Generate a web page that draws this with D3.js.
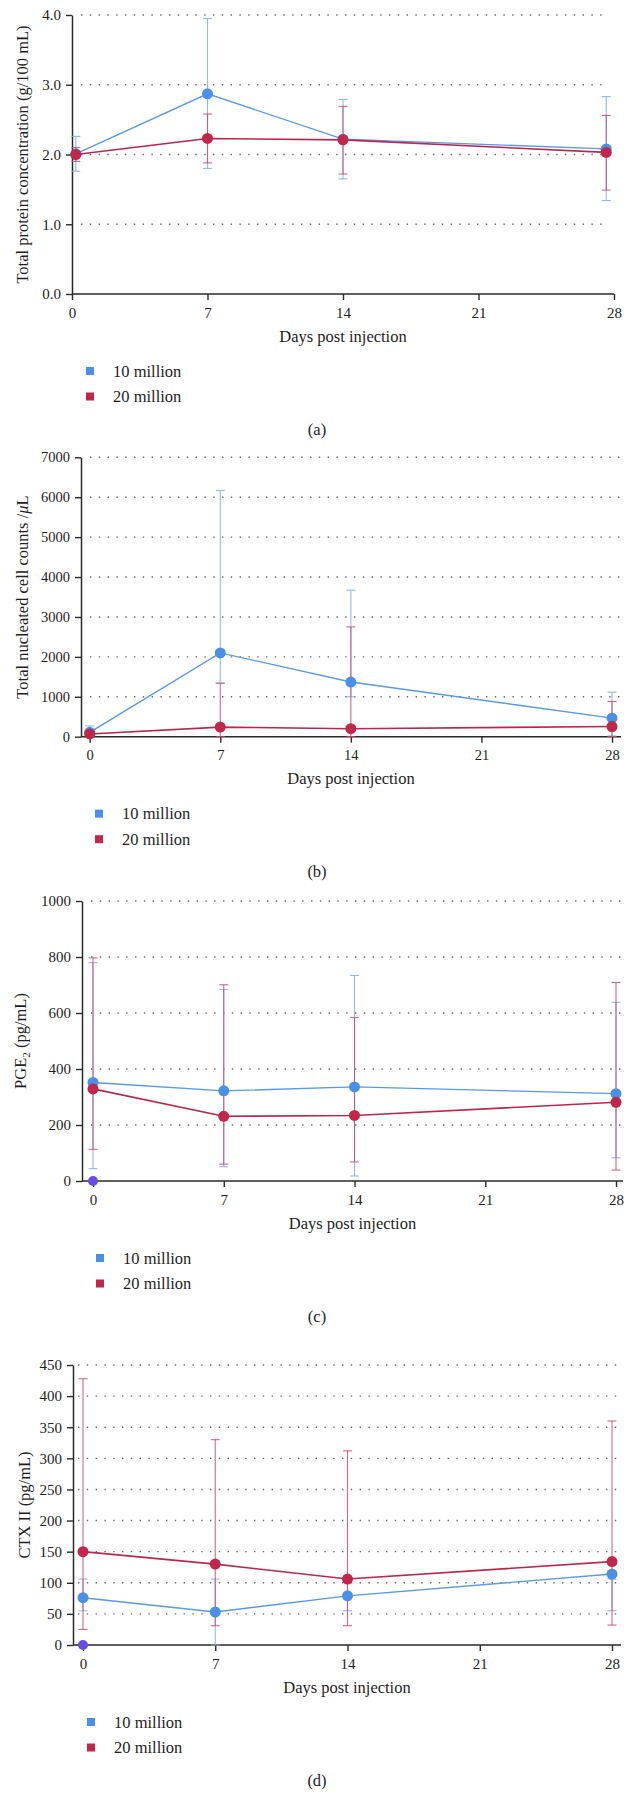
<!DOCTYPE html>
<html><head><meta charset="utf-8">
<script src="https://cdn.jsdelivr.net/npm/d3@7"></script>
<style>
body{margin:0;background:#fff}
svg{display:block}
text{font-family:"Liberation Serif","DejaVu Serif",serif;fill:#1e1e1e}
</style>
</head><body>
<svg id="chart" width="634" height="1814"></svg>
<script>
// ---------- data ----------
const tickDays = [0, 7, 14, 21, 28];
const daysA = [0.2, 7, 14, 27.6];
const days = [0, 7, 14, 28];
const seriesNames = ["10 million", "20 million"];

// (a) total protein (g/100 mL)
const aBlue = [2.01, 2.87, 2.22, 2.08];
const aBlueLo = [1.76, 1.80, 1.65, 1.34];
const aBlueHi = [2.26, 3.95, 2.79, 2.83];
const aRed = [2.00, 2.23, 2.21, 2.03];
const aRedLo = [1.90, 1.88, 1.72, 1.49];
const aRedHi = [2.10, 2.58, 2.69, 2.56];
const aTicks = [0, 1, 2, 3, 4];

// (b) total nucleated cell counts /uL
const bBlue = [110, 2100, 1370, 465];
const bBlueLo = [0, 1340, 1000, 20];
const bBlueHi = [270, 6170, 3670, 1115];
const bRed = [68, 240, 200, 255];
const bRedLo = [0, 0, 0, 0];
const bRedHi = [150, 1340, 2750, 880];
const bTicks = [0, 1000, 2000, 3000, 4000, 5000, 6000, 7000];

// (c) PGE2 (pg/mL)
const cBlue = [352, 322, 336, 312];
const cBlueLo = [44, 51, 18, 83];
const cBlueHi = [780, 684, 734, 638];
const cRed = [329, 231, 234, 281];
const cRedLo = [113, 60, 68, 39];
const cRedHi = [797, 701, 584, 709];
const cTicks = [0, 200, 400, 600, 800, 1000];
const cExtraDay = [0];
const cExtraVal = [0];

// (d) CTX II (pg/mL)
const dBlue = [76, 53, 79, 114];
const dBlueLo = [55, 0, 55, 55];
const dBlueHi = [106, 106, 103, 106];
const dRed = [150, 130, 106, 134];
const dRedLo = [25, 31, 31, 32];
const dRedHi = [428, 330, 312, 360];
const dTicks = [0, 50, 100, 150, 200, 250, 300, 350, 400, 450];
const dExtraDay = [0];
const dExtraVal = [0];

// ---------- styling ----------
const COL = {
  blue: "#4a8fe8", red: "#c2264a",
  blueLine: "#5a98e6", redLine: "#b8284c",
  blueErr: "#7aaeea", redErr: "#c9506f",
  purple: "#6a4ae8", axis: "#2a2a2a", grid: "#6a6a6a"
};

function mk(xs, v, lo, hi) { return xs.map((d, i) => ({day: d, v: v[i], lo: lo[i], hi: hi[i]})); }

const panels = [
  {cap: "(a)", blue: mk(daysA, aBlue, aBlueLo, aBlueHi), red: mk(daysA, aRed, aRedLo, aRedHi),
   ticks: aTicks, fmt: d3.format(".1f"), title: ["Total protein concentration (g/100 mL)"],
   L: {axisX: 72, x0: 72, x28: 614, xEnd: 614, yTop: 15, yBot: 294, gx0: 81, gx1: 607, titleX: 22, fs: 15}},
  {cap: "(b)", blue: mk(days, bBlue, bBlueLo, bBlueHi), red: mk(days, bRed, bRedLo, bRedHi),
   ticks: bTicks, fmt: d3.format("d"), title: ["Total nucleated cell counts /", "μ", "L"],
   L: {axisX: 81, x0: 89.7, x28: 612, xEnd: 621, yTop: 457.3, yBot: 736.7, gx0: 90, gx1: 620, titleX: 22, fs: 14.5}},
  {cap: "(c)", blue: mk(days, cBlue, cBlueLo, cBlueHi), red: mk(days, cRed, cRedLo, cRedHi),
   extra: cExtraDay.map((d, i) => ({day: d, v: cExtraVal[i]})),
   ticks: cTicks, fmt: d3.format("d"), title: "PGE",
   L: {axisX: 82, x0: 93, x28: 616, xEnd: 623, yTop: 901, yBot: 1181, gx0: 91, gx1: 621, titleX: 20, fs: 15}},
  {cap: "(d)", blue: mk(days, dBlue, dBlueLo, dBlueHi), red: mk(days, dRed, dRedLo, dRedHi),
   extra: dExtraDay.map((d, i) => ({day: d, v: dExtraVal[i]})),
   ticks: dTicks, fmt: d3.format("d"), title: ["CTX II (pg/mL)"],
   L: {axisX: 73, x0: 83, x28: 612, xEnd: 621, yTop: 1365, yBot: 1645, gx0: 78, gx1: 621, titleX: 24, fs: 15}}
];

const svg = d3.select("#chart");
const FS = 16.5;

panels.forEach(p => {
  const L = p.L;
  const g = svg.append("g");
  const x = d3.scaleLinear().domain([0, 28]).range([L.x0, L.x28]);
  const yMax = p.ticks[p.ticks.length - 1];
  const y = d3.scaleLinear().domain([0, yMax]).range([L.yBot, L.yTop]);

  // grid
  g.append("g").selectAll("line").data(p.ticks.filter(t => t > 0)).join("line")
    .attr("x1", L.gx0).attr("x2", L.gx1)
    .attr("y1", d => y(d)).attr("y2", d => y(d))
    .attr("stroke", COL.grid).attr("stroke-width", 1.4)
    .attr("stroke-dasharray", "1.4,7.4");

  // y axis
  const ya = g.append("g").attr("transform", `translate(${L.axisX},0)`)
    .call(d3.axisLeft(y).tickValues(p.ticks).tickFormat(p.fmt).tickSize(6).tickPadding(5).tickSizeOuter(0));
  // x axis
  const xa = g.append("g").attr("transform", `translate(0,${L.yBot})`)
    .call(d3.axisBottom(x).tickValues(tickDays).tickFormat(d3.format("d")).tickSize(6).tickPadding(7).tickSizeOuter(0));
  xa.select(".domain").remove();
  g.append("line").attr("x1", L.axisX).attr("x2", L.xEnd).attr("y1", L.yBot).attr("y2", L.yBot)
    .attr("stroke", COL.axis).attr("stroke-width", 1.5);
  [ya, xa].forEach(a => {
    a.selectAll(".domain").attr("stroke", COL.axis).attr("stroke-width", 1.5);
    a.selectAll(".tick line").attr("stroke", COL.axis).attr("stroke-width", 1.4);
    a.selectAll(".tick text").attr("font-family", '"Liberation Serif","DejaVu Serif",serif')
      .attr("font-size", L.fs).attr("fill", "#1e1e1e");
  });

  // axis titles
  g.append("text").attr("x", (L.axisX + L.xEnd) / 2).attr("y", L.yBot + 42).attr("dy", "0.35em")
    .attr("text-anchor", "middle").attr("font-size", FS).text("Days post injection");
  const yt = g.append("text")
    .attr("transform", `translate(${L.titleX},${(L.yTop + L.yBot) / 2}) rotate(-90)`)
    .attr("text-anchor", "middle").attr("dy", "0.35em").attr("font-size", FS);
  if (p.title === "PGE") {
    yt.append("tspan").text("PGE");
    yt.append("tspan").attr("font-size", 11).attr("dy", 4).text("2");
    yt.append("tspan").attr("dy", -4).text(" (pg/mL)");
  } else if (p.title.length === 3) {
    yt.append("tspan").text(p.title[0]);
    yt.append("tspan").attr("font-style", "italic").text(p.title[1]);
    yt.append("tspan").text(p.title[2]);
  } else {
    yt.text(p.title[0]);
  }

  // error bars
  const drawErr = (data, col) => {
    const eg = g.append("g").attr("stroke", col).attr("stroke-width", 1.1).attr("stroke-opacity", 0.85);
    data.forEach(d => {
      const cx = x(d.day);
      eg.append("line").attr("x1", cx).attr("x2", cx).attr("y1", y(d.lo)).attr("y2", y(d.hi));
      [d.lo, d.hi].forEach(v => eg.append("line").attr("x1", cx - 4.5).attr("x2", cx + 4.5)
        .attr("y1", y(v)).attr("y2", y(v)));
    });
  };
  drawErr(p.blue, COL.blueErr);
  drawErr(p.red, COL.redErr);

  // lines
  const line = d3.line().x(d => x(d.day)).y(d => y(d.v));
  g.append("path").datum(p.blue).attr("d", line).attr("fill", "none")
    .attr("stroke", COL.blueLine).attr("stroke-width", 1.4);
  g.append("path").datum(p.red).attr("d", line).attr("fill", "none")
    .attr("stroke", COL.redLine).attr("stroke-width", 1.6);

  // points
  g.append("g").selectAll("circle").data(p.blue).join("circle")
    .attr("cx", d => x(d.day)).attr("cy", d => y(d.v)).attr("r", 5.5).attr("fill", COL.blue);
  g.append("g").selectAll("circle").data(p.red).join("circle")
    .attr("cx", d => x(d.day)).attr("cy", d => y(d.v)).attr("r", 5.5).attr("fill", COL.red);
  if (p.extra) {
    g.append("g").selectAll("circle").data(p.extra).join("circle")
      .attr("cx", d => x(d.day)).attr("cy", d => y(d.v)).attr("r", 5).attr("fill", COL.purple);
  }

  // legend
  const lx = L.axisX + 18;
  [COL.blue, COL.red].forEach((c, i) => {
    const ly = L.yBot + 77 + i * 25.5;
    g.append("rect").attr("x", lx - 4).attr("y", ly - 4).attr("width", 8).attr("height", 8).attr("fill", c);
    g.append("text").attr("x", lx + 23).attr("y", ly).attr("dy", "0.35em").attr("font-size", FS).text(seriesNames[i]);
  });

  // caption
  g.append("text").attr("x", 317).attr("y", L.yBot + 135).attr("dy", "0.35em")
    .attr("text-anchor", "middle").attr("font-size", FS).text(p.cap);
});
</script>
</body></html>
